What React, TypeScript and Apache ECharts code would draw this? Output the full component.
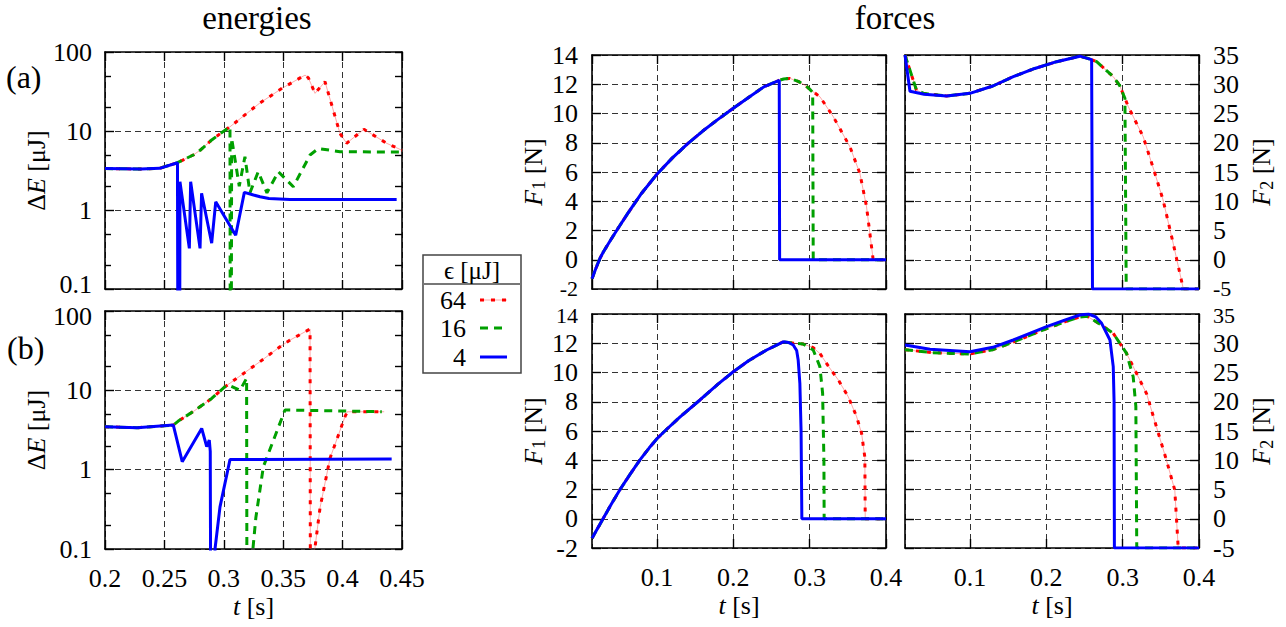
import React, { useEffect, useRef } from 'react';
import * as echarts from 'echarts';

// ---------------- texts ----------------
const panelTitles = ['energies', 'forces'];
const panelLetters = ['(a)', '(b)'];
const legendTitle = 'ϵ [μJ]';
const legendLabels = ['64', '16', '4'];

// ---------------- axes ----------------
const energyXMin = 0.2, energyXMax = 0.45, energyXStep = 0.05;
const energyYMin = 0.1, energyYMax = 100;
const energyMinorTicks = [0.2, 0.5, 2, 5, 20, 50];
const energyAllTicks = [0.1, 0.2, 0.5, 1, 2, 5, 10, 20, 50, 100];
const forceXMin = 0.015, forceXMax = 0.4;
const f1Min = -2, f1Max = 14, f1Step = 2;
const f2Min = -5, f2Max = 35, f2Step = 5;

// ---------------- energy data, panel (a) ----------------
const energyA64 = [[0.2, 3.35], [0.23, 3.3], [0.246, 3.37], [0.261, 3.97], [0.2743, 4.97], [0.28, 5.7], [0.2898, 7.7], [0.298, 9.5], [0.3052, 11.3], [0.33, 22.4], [0.349, 34.7], [0.3684, 51], [0.3712, 47], [0.3768, 30], [0.3852, 42], [0.3978, 9.3], [0.4034, 7.0], [0.418, 10.5], [0.437, 7.0], [0.45, 5.7]];
const energyA16 = [[0.2, 3.35], [0.23, 3.3], [0.246, 3.37], [0.261, 3.97], [0.2743, 4.97], [0.28, 5.7], [0.2898, 7.7], [0.298, 9.5], [0.3052, 11.3], [0.3055, 0.001], [0.3062, 0.001], [0.3066, 8.1], [0.313, 2.0], [0.3178, 4.73], [0.322, 1.65], [0.329, 3.05], [0.3363, 1.65], [0.3459, 3.05], [0.3585, 1.97], [0.3726, 4.97], [0.3796, 6.0], [0.3978, 5.47], [0.45, 5.4]];
const energyA4 = [[0.2, 3.35], [0.23, 3.3], [0.246, 3.37], [0.261, 3.97], [0.2615, 0.001], [0.2628, 0.001], [0.2631, 2.28], [0.271, 0.327], [0.2721, 2.28], [0.28, 0.327], [0.2813, 1.63], [0.2898, 0.38], [0.2932, 1.27], [0.31, 0.48], [0.3173, 1.67], [0.325, 1.55], [0.3305, 1.47], [0.338, 1.4], [0.3557, 1.36], [0.4455, 1.36]];

// ---------------- energy data, panel (b) ----------------
const energyB64 = [[0.2, 3.47], [0.227, 3.38], [0.2575, 3.65], [0.2617, 4.1], [0.2743, 5.4], [0.2898, 7.9], [0.301, 11.1], [0.3305, 23], [0.3473, 35.4], [0.3558, 43], [0.3726, 59.3], [0.373, 0.001], [0.3765, 0.001], [0.3766, 0.1], [0.381, 0.33], [0.3894, 1.39], [0.402, 4.65], [0.404, 5.37], [0.435, 5.37]];
const energyB16 = [[0.2, 3.47], [0.227, 3.38], [0.2575, 3.65], [0.2617, 4.1], [0.2743, 5.4], [0.2898, 7.9], [0.301, 11.1], [0.3038, 11.7], [0.3136, 10.0], [0.3192, 14.2], [0.3196, 0.001], [0.3244, 0.001], [0.3245, 0.1], [0.327, 0.25], [0.3333, 1.09], [0.3515, 5.65], [0.433, 5.37]];
const energyB4 = [[0.2, 3.47], [0.227, 3.38], [0.2575, 3.65], [0.265, 1.26], [0.2814, 3.31], [0.2856, 1.95], [0.2878, 2.36], [0.2886, 1.7], [0.2892, 0.001], [0.2924, 0.001], [0.2926, 0.1], [0.2968, 0.34], [0.3052, 1.34], [0.4413, 1.36]];

// ---------------- forces, run (a) ----------------
const forceAF1Rise = [[0.015, -1.3], [0.02, -0.6], [0.0255, 0.1], [0.03, 0.55], [0.04, 1.4], [0.05, 2.22], [0.0625, 3.22], [0.08, 4.55], [0.1, 5.85], [0.12, 6.95], [0.14, 7.92], [0.16, 8.8], [0.18, 9.6], [0.2, 10.36], [0.22, 11.1], [0.24, 11.82], [0.2602, 12.27]];
const forceAF1Tail4 = [[0.2607, 0], [0.4, 0]];
const forceAF1Tail16 = [[0.266, 12.36], [0.274, 12.4], [0.285, 12.2], [0.295, 11.9], [0.3003, 11.65], [0.304, 11.45], [0.3047, 0], [0.4, 0]];
const forceAF1Tail64 = [[0.266, 12.36], [0.274, 12.4], [0.285, 12.2], [0.295, 11.9], [0.3003, 11.65], [0.3134, 11.15], [0.331, 9.78], [0.3527, 7.73], [0.3658, 5.91], [0.3745, 3.63], [0.3832, 0], [0.4, 0]];

const forceAF2Start4 = [[0.015, 35], [0.0215, 28.8], [0.04, 28.3]];
const forceAF2Start = [[0.015, 35], [0.03, 29.0], [0.04, 28.4]];
const forceAF2Mid = [[0.0695, 28.0], [0.1, 28.45], [0.13, 29.7], [0.1568, 31.3], [0.185, 32.7], [0.2136, 33.86], [0.244, 34.8]];
const forceAF2Tail4 = [[0.2594, 34.2], [0.2605, -5], [0.4, -5]];
const forceAF2Tail16 = [[0.255, 34.4], [0.266, 33.86], [0.2877, 31.3], [0.296, 29.8], [0.303, 27.6], [0.3047, -5], [0.4, -5]];
const forceAF2Tail64 = [[0.255, 34.4], [0.266, 33.86], [0.2877, 31.3], [0.296, 29.8], [0.303, 27.6], [0.3073, 26.2], [0.327, 21.0], [0.341, 15.3], [0.353, 10.2], [0.3662, 2.8], [0.3795, -5], [0.4, -5]];

// ---------------- forces, run (b) ----------------
const forceBF1Rise = [[0.015, -1.34], [0.03, 0.05], [0.04, 0.97], [0.0517, 2.0], [0.065, 3.05], [0.0778, 4.02], [0.09, 4.85], [0.1, 5.47], [0.1128, 6.12], [0.13, 6.95], [0.1564, 8.12], [0.18, 9.2], [0.2, 10.05], [0.22, 10.8], [0.2437, 11.54], [0.2654, 12.1]];
const forceBF1Tail4 = [[0.2725, 12.05], [0.2785, 11.88], [0.283, 11.5], [0.285, 10.85], [0.2872, 9.26], [0.2888, 6], [0.2898, 0], [0.4, 0]];
const forceBF1Tail16 = [[0.28, 12.0], [0.2915, 11.95], [0.3047, 11.54], [0.3134, 10.4], [0.317, 8.58], [0.3187, 4], [0.319, 0], [0.4, 0]];
const forceBF1Tail64 = [[0.28, 12.0], [0.2915, 11.95], [0.3047, 11.7], [0.3134, 11.3], [0.325, 10.4], [0.3374, 9.5], [0.3505, 8.35], [0.3614, 7.0], [0.368, 5.85], [0.3723, 4.2], [0.3728, 0], [0.4, 0]];

const forceBF2Run4 = [[0.015, 29.7], [0.0477, 28.96], [0.1, 28.56], [0.13, 29.3], [0.1568, 30.56], [0.2005, 32.83], [0.225, 34.0], [0.244, 34.83], [0.255, 35], [0.265, 34.5], [0.2725, 33.4], [0.2834, 30.56], [0.2877, 26], [0.2888, 20], [0.2892, -5], [0.4, -5]];
const forceBF2Rise = [[0.015, 28.9], [0.05, 28.4], [0.1, 28.16], [0.13, 28.9], [0.1568, 30.2], [0.2005, 32.5], [0.225, 33.7], [0.244, 34.5], [0.2537, 34.6], [0.27, 33.3], [0.2877, 31.7], [0.305, 28.3]];
const forceBF2Tail16 = [[0.3138, 24.3], [0.3173, 19.2], [0.3185, -5], [0.4, -5]];
const forceBF2Tail64 = [[0.3138, 26.0], [0.3313, 21.4], [0.3443, 15.7], [0.3574, 10.0], [0.3683, 4.9], [0.3727, -4.8], [0.373, -5], [0.4, -5]];

// ---------------- styling ----------------
const FONT = 'Liberation Serif, DejaVu Serif, serif';
const RED = '#ff0000';
const GREEN = '#00a000';
const BLUE = '#0000ff';
const FS = 26;
const FS_EDGE = 22;

const nameTextStyle = {
  fontFamily: FONT,
  fontSize: FS,
  color: '#000',
  rich: {
    i: { fontFamily: FONT, fontSize: FS, fontStyle: 'italic', color: '#000' },
    n: { fontFamily: FONT, fontSize: FS, color: '#000' },
    s: { fontFamily: FONT, fontSize: 18, color: '#000', verticalAlign: 'bottom', lineHeight: 30 },
  },
};
const labelStyle = { fontFamily: FONT, fontSize: FS, color: '#000' };
const energyRich = {
  lo: { fontFamily: FONT, fontSize: FS, color: '#000', padding: [0, 0, 10, 0] },
  hi: { fontFamily: FONT, fontSize: FS, color: '#000', padding: [10, 0, 0, 0] },
};
const forceRich = {
  lo: { fontFamily: FONT, fontSize: FS_EDGE, color: '#000', padding: [0, 0, 2, 0] },
  hi: { fontFamily: FONT, fontSize: FS_EDGE, color: '#000', padding: [2, 0, 0, 0] },
};
const axisLineStyle = { color: '#000', width: 1.6 };
const tickStyle = { color: '#000', width: 1.4 };
const splitStyle = { color: '#333', width: 1, type: [6, 4] as number[] };

const fmtNum = (v: number) => String(Number(v.toPrecision(6)));
// top panels tag their lowest label, bottom panels their highest one (they sit next to each other)
const makeFormatter = (min: number, max: number, top: boolean) => (v: number) => {
  const s = fmtNum(v);
  if (top && Math.abs(v - min) < 1e-9) return `{lo|${s}}`;
  if (!top && Math.abs(v - max) < 1e-9) return `{hi|${s}}`;
  return s;
};

type Pt = number[][];

function lineSeries(data: Pt, which: string, xi: number, yi: number) {
  const base = {
    type: 'line', xAxisIndex: xi, yAxisIndex: yi, data, showSymbol: false, symbol: 'none',
    clip: true, silent: true, animation: false,
  };
  if (which === '64') {
    return [
      { ...base, lineStyle: { color: 'rgba(255,60,60,0.45)', width: 1 } },
      { ...base, lineStyle: { color: RED, width: 3, type: [4, 7] } },
    ];
  }
  if (which === '16') return [{ ...base, lineStyle: { color: GREEN, width: 3, type: [8, 6] } }];
  return [{ ...base, lineStyle: { color: BLUE, width: 3 } }];
}

function buildOption() {
  const grids = [
    { left: 105, top: 52, width: 297, height: 237 },
    { left: 105, top: 311, width: 297, height: 238 },
    { left: 592, top: 55, width: 294, height: 234 },
    { left: 905, top: 55, width: 294, height: 234 },
    { left: 592, top: 314, width: 294, height: 234 },
    { left: 905, top: 314, width: 294, height: 234 },
  ];
  const xAxes: any[] = [];
  const yAxes: any[] = [];
  const series: any[] = [];

  const addX = (gridIndex: number, energy: boolean, showLabels: boolean) => {
    const common: any = energy
      ? { min: energyXMin, max: energyXMax, interval: energyXStep }
      : { min: forceXMin, max: forceXMax };
    const idx = xAxes.length;
    xAxes.push({
      type: 'value', gridIndex, position: 'bottom', ...common,
      axisLine: { show: true, onZero: false, lineStyle: axisLineStyle },
      axisTick: { show: true, inside: true, length: 9, lineStyle: tickStyle },
      axisLabel: { show: showLabels, margin: 16, showMinLabel: energy, showMaxLabel: true, ...labelStyle },
      splitLine: { show: true, lineStyle: splitStyle },
      name: showLabels ? '{i|t} [s]' : '', nameLocation: 'middle', nameGap: 44, nameTextStyle,
    });
    xAxes.push({
      type: 'value', gridIndex, position: 'top', ...common,
      axisLine: { show: true, onZero: false, lineStyle: axisLineStyle },
      axisTick: { show: true, inside: true, length: 9, lineStyle: tickStyle },
      axisLabel: { show: false }, splitLine: { show: false },
    });
    return idx;
  };

  const addLogY = (gridIndex: number, top: boolean) => {
    const idx = yAxes.length;
    const common = { type: 'log', logBase: 10, gridIndex, min: energyYMin, max: energyYMax };
    yAxes.push({
      ...common, position: 'left',
      axisLine: { show: true, onZero: false, lineStyle: axisLineStyle },
      axisTick: { show: true, inside: true, length: 9, lineStyle: tickStyle },
      axisLabel: {
        show: true, margin: 13, showMinLabel: true, showMaxLabel: true, ...labelStyle,
        rich: energyRich, formatter: makeFormatter(energyYMin, energyYMax, top),
      },
      splitLine: { show: true, lineStyle: splitStyle },
      name: '{n|Δ}{i|E} [μJ]', nameLocation: 'middle', nameGap: 41, nameRotate: 90, nameTextStyle,
    });
    yAxes.push({
      ...common, position: 'left',
      axisLine: { show: false },
      axisTick: { show: true, inside: true, length: 6, lineStyle: tickStyle, customValues: energyMinorTicks },
      axisLabel: { show: false }, splitLine: { show: false },
    });
    yAxes.push({
      ...common, position: 'right',
      axisLine: { show: true, onZero: false, lineStyle: axisLineStyle },
      axisTick: { show: true, inside: true, length: 7, lineStyle: tickStyle, customValues: energyAllTicks },
      axisLabel: { show: false }, splitLine: { show: false },
    });
    return idx;
  };

  const addForceY = (gridIndex: number, f2: boolean, top: boolean) => {
    const min = f2 ? f2Min : f1Min;
    const max = f2 ? f2Max : f1Max;
    const pos = f2 ? 'right' : 'left';
    const common = { type: 'value', gridIndex, min, max, interval: f2 ? f2Step : f1Step };
    const idx = yAxes.length;
    yAxes.push({
      ...common, position: pos,
      axisLine: { show: true, onZero: false, lineStyle: axisLineStyle },
      axisTick: { show: true, inside: true, length: 9, lineStyle: tickStyle },
      axisLabel: {
        show: true, margin: 14, showMinLabel: !top, showMaxLabel: top, ...labelStyle,
        formatter: (v: number) => fmtNum(v),
      },
      splitLine: { show: true, lineStyle: splitStyle },
      name: f2 ? '{i|F}{s|2} [N]' : '{i|F}{s|1} [N]', nameLocation: 'middle', nameGap: f2 ? 47 : 44, nameRotate: 90, nameTextStyle,
    });
    // the edge label next to the neighbouring panel, drawn slightly smaller
    yAxes.push({
      ...common, position: pos,
      axisLine: { show: false }, axisTick: { show: false }, splitLine: { show: false },
      axisLabel: {
        show: true, margin: 14, showMinLabel: true, showMaxLabel: true, ...labelStyle,
        customValues: [top ? min : max], rich: forceRich, formatter: makeFormatter(min, max, top),
      },
    });
    yAxes.push({
      ...common, position: f2 ? 'left' : 'right',
      axisLine: { show: true, onZero: false, lineStyle: axisLineStyle },
      axisTick: { show: true, inside: true, length: 9, lineStyle: tickStyle },
      axisLabel: { show: false }, splitLine: { show: false },
    });
    return idx;
  };

  // energies (a)
  let xi = addX(0, true, false);
  let yi = addLogY(0, true);
  series.push(...lineSeries(energyA64, '64', xi, yi), ...lineSeries(energyA16, '16', xi, yi), ...lineSeries(energyA4, '4', xi, yi));
  // energies (b)
  xi = addX(1, true, true);
  yi = addLogY(1, false);
  series.push(...lineSeries(energyB64, '64', xi, yi), ...lineSeries(energyB16, '16', xi, yi), ...lineSeries(energyB4, '4', xi, yi));
  // F1 (a)
  xi = addX(2, false, false);
  yi = addForceY(2, false, true);
  series.push(
    ...lineSeries([...forceAF1Rise, ...forceAF1Tail64], '64', xi, yi),
    ...lineSeries([...forceAF1Rise, ...forceAF1Tail16], '16', xi, yi),
    ...lineSeries([...forceAF1Rise, ...forceAF1Tail4], '4', xi, yi),
  );
  // F2 (a)
  xi = addX(3, false, false);
  yi = addForceY(3, true, true);
  series.push(
    ...lineSeries([...forceAF2Start, ...forceAF2Mid, ...forceAF2Tail64], '64', xi, yi),
    ...lineSeries([...forceAF2Start, ...forceAF2Mid, ...forceAF2Tail16], '16', xi, yi),
    ...lineSeries([...forceAF2Start4, ...forceAF2Mid, ...forceAF2Tail4], '4', xi, yi),
  );
  // F1 (b)
  xi = addX(4, false, true);
  yi = addForceY(4, false, false);
  series.push(
    ...lineSeries([...forceBF1Rise, ...forceBF1Tail64], '64', xi, yi),
    ...lineSeries([...forceBF1Rise, ...forceBF1Tail16], '16', xi, yi),
    ...lineSeries([...forceBF1Rise, ...forceBF1Tail4], '4', xi, yi),
  );
  // F2 (b)
  xi = addX(5, false, true);
  yi = addForceY(5, true, false);
  series.push(
    ...lineSeries([...forceBF2Rise, ...forceBF2Tail64], '64', xi, yi),
    ...lineSeries([...forceBF2Rise, ...forceBF2Tail16], '16', xi, yi),
    ...lineSeries(forceBF2Run4, '4', xi, yi),
  );

  const txt = (text: string, x: number, y: number, size: number, align = 'center') => ({
    type: 'text', x, y, silent: true,
    style: { text, fontFamily: FONT, fontSize: size, fill: '#000', align, verticalAlign: 'middle', textAlign: align, textVerticalAlign: 'middle' },
  });
  const legendRows = [300, 328, 357];
  const legendStyles = [
    { stroke: RED, lineWidth: 3, lineDash: [4, 7] },
    { stroke: GREEN, lineWidth: 3, lineDash: [8, 6] },
    { stroke: BLUE, lineWidth: 3 },
  ];
  const graphic: any[] = [
    txt(panelTitles[0], 257, 18, 33),
    txt(panelTitles[1], 895, 18, 33),
    txt(panelLetters[0], 6, 77, 32, 'left'),
    txt(panelLetters[1], 7, 348, 32, 'left'),
    { type: 'rect', shape: { x: 423, y: 255, width: 98, height: 118 }, style: { fill: '#fff', stroke: '#444', lineWidth: 1.5 }, silent: true },
    { type: 'line', shape: { x1: 423, y1: 284, x2: 521, y2: 284 }, style: { stroke: '#777', lineWidth: 2 }, silent: true },
    txt(legendTitle, 472, 270, 25),
  ];
  legendLabels.forEach((lab, i) => {
    graphic.push(txt(lab, 466, legendRows[i], FS, 'right'));
    if (i === 0) {
      graphic.push({ type: 'line', shape: { x1: 480, y1: legendRows[i], x2: 507, y2: legendRows[i] }, style: { stroke: 'rgba(255,60,60,0.45)', lineWidth: 1 }, silent: true });
    }
    graphic.push({ type: 'line', shape: { x1: 480, y1: legendRows[i], x2: 507, y2: legendRows[i] }, style: legendStyles[i], silent: true });
  });

  return {
    animation: false,
    backgroundColor: '#fff',
    grid: grids,
    xAxis: xAxes,
    yAxis: yAxes,
    series,
    graphic,
  };
}

export default function App() {
  const ref = useRef<HTMLDivElement>(null);
  useEffect(() => {
    const chart = echarts.init(ref.current as HTMLDivElement, undefined, { renderer: 'svg' });
    chart.setOption(buildOption() as any);
    return () => chart.dispose();
  }, []);
  return <div ref={ref} style={{ position: 'absolute', left: 0, top: 0, width: 1286, height: 627, background: '#fff' }} />;
}
